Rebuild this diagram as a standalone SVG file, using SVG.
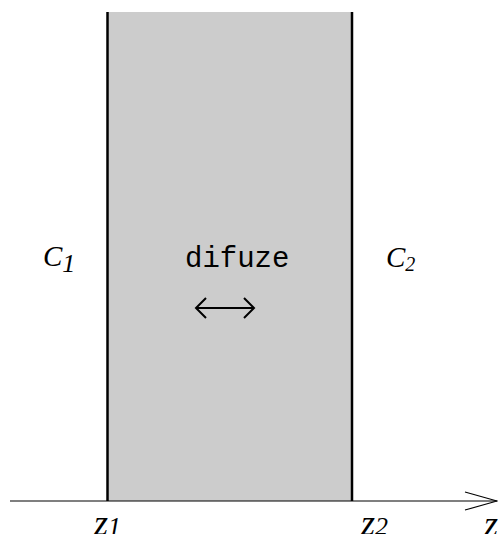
<svg xmlns="http://www.w3.org/2000/svg" width="498" height="534" viewBox="0 0 498 534">
<style>
.it{font-family:"Liberation Serif","Times New Roman",serif;font-style:italic;fill:#000}
.ln{stroke:#000;fill:none}
</style>
<rect width="498" height="534" fill="#fff"/>
<g id="region">
<rect x="108" y="12" width="244" height="489" fill="#cccccc"/>
<line class="ln" x1="107.5" y1="12" x2="107.5" y2="501" stroke-width="2.5"/>
<line class="ln" x1="352" y1="12" x2="352" y2="501" stroke-width="2.5"/>
</g>
<g id="connectors">
<line class="ln" x1="10" y1="501" x2="497" y2="501" stroke-width="1.2"/>
<polyline class="ln" points="465,492 497,501 465,510" stroke-width="1.2"/>
<path class="ln" d="M196,308 H254 M206,298 L196,308 L206,318 M244,298 L254,308 L244,318" stroke-width="2"/>
</g>
<g id="labels">
<text class="it" x="43" y="266" font-size="29">C<tspan font-size="26" dy="6">1</tspan></text>
<text class="it" x="386" y="267" font-size="29">C<tspan font-size="20" dy="4">2</tspan></text>
<text x="185" y="267" font-family="'Liberation Mono','Courier New',monospace" font-size="29">difuze</text>
<text class="it" x="94" y="535" font-size="36">z<tspan font-size="26">1</tspan></text>
<text class="it" x="361" y="535" font-size="36">z<tspan font-size="26">2</tspan></text>
<text class="it" x="484" y="536" font-size="36">z</text>
</g>
</svg>
